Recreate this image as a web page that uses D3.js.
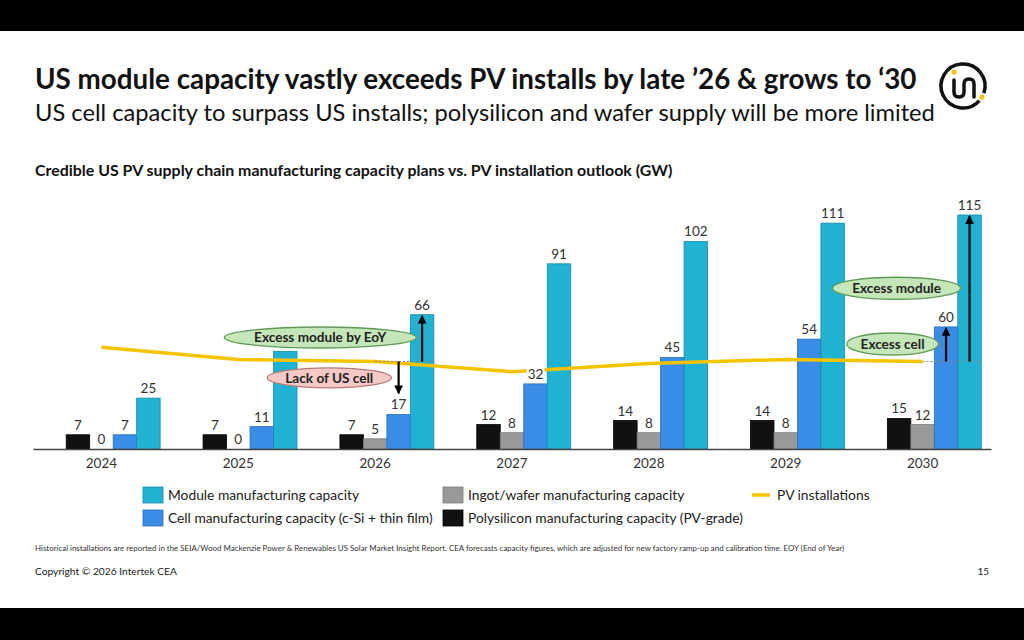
<!DOCTYPE html>
<html>
<head>
<meta charset="utf-8">
<script src="https://cdn.jsdelivr.net/npm/d3@7/dist/d3.min.js"></script>
<style>
  body { margin: 0; background: #000; }
  svg { display: block; font-family: Lato, "Open Sans", sans-serif; }
</style>
</head>
<body>
<script>
const WIDTH = 1024;
const HEIGHT = 640;

// Chart data (GW)
const years       = ["2024", "2025", "2026", "2027", "2028", "2029", "2030"];
const polysilicon = [7, 7, 7, 12, 14, 14, 15];
const wafer       = [0, 0, 5, 8, 8, 8, 12];
const cell        = [7, 11, 17, 32, 45, 54, 60];
const moduleCap   = [25, 48, 66, 91, 102, 111, 115];
const pvInstalls  = [50, 44, 43, 38, 42, 44, 43];

// first slot is left empty (the PV series sits there in the original workbook)
const slots = ["pv", "poly", "wafer", "cell", "module"];
const fills   = { poly: "#111111", wafer: "#999999", cell: "#3a8de6", module: "#20b2d3" };
const strokes = { poly: "#000000", wafer: "#7a7a7a", cell: "#2b6fb5", module: "#1789a6" };

// labels covered by a callout bubble on the slide
const hiddenLabels = ["2025-module"];

const rows = years.map((y, i) => ({
  year: y, poly: polysilicon[i], wafer: wafer[i], cell: cell[i], module: moduleCap[i], pv: pvInstalls[i]
}));

const svg = d3.select("body").append("svg")
  .attr("width", WIDTH).attr("height", HEIGHT);

// slide background with black letterbox bands
svg.append("rect").attr("width", WIDTH).attr("height", HEIGHT).attr("fill", "#000");
svg.append("rect").attr("y", 31).attr("width", WIDTH).attr("height", 577).attr("fill", "#fff");

// shrink/grow a text so it spans a given width
function fitWidth(sel, w) {
  const len = sel.node().getComputedTextLength();
  const fs = parseFloat(sel.style("font-size"));
  sel.style("font-size", (fs * w / len) + "px");
}

// Titles
const title = svg.append("text").attr("x", 35).attr("y", 89)
  .style("font-size", "23px").style("font-weight", 700).attr("fill", "#111")
  .text("US module capacity vastly exceeds PV installs by late \u201926 & grows to \u201830");
fitWidth(title, 882);
const subtitle = svg.append("text").attr("x", 35).attr("y", 121)
  .style("font-size", "21px").attr("fill", "#111")
  .text("US cell capacity to surpass US installs; polysilicon and wafer supply will be more limited");
fitWidth(subtitle, 900);
const heading = svg.append("text").attr("x", 35).attr("y", 176)
  .style("font-size", "13px").style("font-weight", 700).attr("fill", "#111")
  .text("Credible US PV supply chain manufacturing capacity plans vs. PV installation outlook (GW)");
fitWidth(heading, 638);

// Logo
const logo = svg.append("g").attr("transform", "translate(963,86)");
logo.append("path")
  .attr("d", d3.arc()({ innerRadius: 22, outerRadius: 22, startAngle: 2.3, endAngle: 2 * Math.PI + 1.9 }))
  .attr("fill", "none").attr("stroke", "#111").attr("stroke-width", 3.5).attr("stroke-linecap", "round");
logo.append("path")
  .attr("d", "M-9,-6 V6 Q-9,11 -4,11 Q1,11 1,6 V-2 Q1,-7 6,-7 Q11,-7 11,-2 V11")
  .attr("fill", "none").attr("stroke", "#111").attr("stroke-width", 3.5).attr("stroke-linecap", "round");
logo.append("circle").attr("cx", -9).attr("cy", -14).attr("r", 2.6).attr("fill", "#f2c400");
logo.append("circle").attr("cx", 22 * Math.sin(2.1)).attr("cy", -22 * Math.cos(2.1)).attr("r", 2.6).attr("fill", "#f2c400");

// Scales
const x0 = d3.scaleBand().domain(years).range([33, 991]).paddingInner(0.142).paddingOuter(0.071);
const x1 = d3.scaleBand().domain(slots).range([0, x0.bandwidth()]);
const y  = d3.scaleLinear().domain([0, 115]).range([449, 215]);
const cx = d => x0(d) + x0.bandwidth() / 2;

// Bars
const groups = svg.append("g").selectAll("g").data(rows).enter().append("g")
  .attr("transform", d => "translate(" + x0(d.year) + ",0)");
const barKeys = ["poly", "wafer", "cell", "module"];
groups.selectAll("rect")
  .data(d => barKeys.map(k => ({ key: k, value: d[k] })))
  .enter().append("rect")
    .attr("x", d => x1(d.key))
    .attr("y", d => y(d.value))
    .attr("width", x1.bandwidth())
    .attr("height", d => y(0) - y(d.value))
    .attr("fill", d => fills[d.key])
    .attr("stroke", d => d.value > 0 ? strokes[d.key] : "none")
    .attr("stroke-width", 0.8);

// Axis (baseline + year labels)
const xAxis = svg.append("g").attr("transform", "translate(0," + y(0) + ")")
  .call(d3.axisBottom(x0).tickSize(0).tickPadding(9).tickSizeOuter(0));
xAxis.select(".domain").attr("stroke", "#444").attr("stroke-width", 1.3);
xAxis.selectAll("text").style("font-family", "Lato, sans-serif").style("font-size", "13.5px").attr("fill", "#333");

// PV installations line
svg.append("path")
  .datum(rows)
  .attr("fill", "none").attr("stroke", "#f4c400").attr("stroke-width", 3.5)
  .attr("d", d3.line().x(d => cx(d.year)).y(d => y(d.pv)));

// Data labels with white backing
const labels = svg.append("g");
rows.forEach(d => {
  barKeys.forEach(k => {
    if (hiddenLabels.includes(d.year + "-" + k)) return;
    const lx = x0(d.year) + x1(k) + x1.bandwidth() / 2;
    const t = labels.append("text")
      .attr("x", lx).attr("y", y(d[k]) - 5)
      .attr("text-anchor", "middle")
      .style("font-size", "13.5px").attr("fill", "#333")
      .text(d[k]);
    const b = t.node().getBBox();
    labels.insert("rect", () => t.node())
      .attr("x", b.x - 1).attr("y", b.y + 2).attr("width", b.width + 2).attr("height", b.height - 4)
      .attr("fill", "#fff");
  });
});

// Arrow marker
svg.append("defs").append("marker")
  .attr("id", "arrow").attr("viewBox", "0 0 10 10").attr("refX", 9).attr("refY", 5)
  .attr("markerWidth", 4).attr("markerHeight", 4).attr("orient", "auto-start-reverse")
  .append("path").attr("d", "M0,0 L10,5 L0,10 z").attr("fill", "#000");

// Gap annotations: dotted reference at the install level, arrows to bars
function gapArrows(yearIdx, arrows) {
  const d = rows[yearIdx];
  svg.append("line")
    .attr("x1", cx(d.year)).attr("x2", x0(d.year) + x0.bandwidth())
    .attr("y1", y(d.pv)).attr("y2", y(d.pv))
    .attr("stroke", "#888").attr("stroke-width", 1).attr("stroke-dasharray", "2,2");
  arrows.forEach(a => {
    const ax = x0(d.year) + x1(a.key) + x1.bandwidth() / 2;
    svg.append("line")
      .attr("x1", ax).attr("x2", ax)
      .attr("y1", y(d.pv)).attr("y2", a.down ? y(d[a.key]) - 21 : y(d[a.key]) + 1)
      .attr("stroke", "#000").attr("stroke-width", 2.2)
      .attr("marker-end", "url(#arrow)");
  });
}
gapArrows(2, [{ key: "cell", down: true }, { key: "module" }]);
gapArrows(6, [{ key: "cell" }, { key: "module" }]);

// Callout bubbles
const callouts = [
  { text: "Excess module by EoY", year: "2025", dx: 82,  value: 54.8, rx: 96, ry: 10.5, fill: "#c5e6b8", stroke: "#5f9a55" },
  { text: "Lack of US cell",      year: "2025", dx: 91,  value: 35,   rx: 62, ry: 10,   fill: "#f6c9c6", stroke: "#b57a78" },
  { text: "Excess module",        year: "2030", dx: -26, value: 79,   rx: 64, ry: 11,   fill: "#c5e6b8", stroke: "#5f9a55" },
  { text: "Excess cell",          year: "2030", dx: -30, value: 51.6, rx: 46, ry: 11,   fill: "#c5e6b8", stroke: "#5f9a55" }
];
callouts.forEach(c => {
  const ex = cx(c.year) + c.dx, ey = y(c.value);
  svg.append("ellipse").attr("cx", ex).attr("cy", ey).attr("rx", c.rx).attr("ry", c.ry)
    .attr("fill", c.fill).attr("stroke", c.stroke).attr("stroke-width", 1.3);
  svg.append("text").attr("x", ex).attr("y", ey + 5).attr("text-anchor", "middle")
    .style("font-size", "13.6px").style("font-weight", 700).attr("fill", "#222")
    .text(c.text);
});

// Legend
const legend = svg.append("g").style("font-size", "13.8px").attr("fill", "#222");
const legendItems = [
  { label: "Module manufacturing capacity", key: "module", x: 143, y: 487 },
  { label: "Cell manufacturing capacity (c-Si + thin film)", key: "cell", x: 143, y: 510 },
  { label: "Ingot/wafer manufacturing capacity", key: "wafer", x: 443, y: 487 },
  { label: "Polysilicon manufacturing capacity (PV-grade)", key: "poly", x: 443, y: 510 }
];
legendItems.forEach(it => {
  legend.append("rect").attr("x", it.x).attr("y", it.y).attr("width", 20).attr("height", 16)
    .attr("fill", fills[it.key]).attr("stroke", strokes[it.key]).attr("stroke-width", 0.8);
  legend.append("text").attr("x", it.x + 25).attr("y", it.y + 13).text(it.label);
});
legend.append("line").attr("x1", 752).attr("x2", 770).attr("y1", 495).attr("y2", 495)
  .attr("stroke", "#f4c400").attr("stroke-width", 3.5);
legend.append("text").attr("x", 777).attr("y", 500).text("PV installations");

// Footer
const note = svg.append("text").attr("x", 35).attr("y", 551)
  .style("font-size", "7px").attr("fill", "#333")
  .text("Historical installations are reported in the SEIA/Wood Mackenzie Power & Renewables US Solar Market Insight Report. CEA forecasts capacity figures, which are adjusted for new factory ramp-up and calibration time. EOY (End of Year)");
fitWidth(note, 810);
const copy = svg.append("text").attr("x", 35).attr("y", 575)
  .style("font-size", "9.5px").attr("fill", "#222")
  .text("Copyright \u00a9 2026 Intertek CEA");
fitWidth(copy, 142);
svg.append("text").attr("x", 989).attr("y", 575).attr("text-anchor", "end")
  .style("font-size", "10px").attr("fill", "#222").text("15");
</script>
</body>
</html>
